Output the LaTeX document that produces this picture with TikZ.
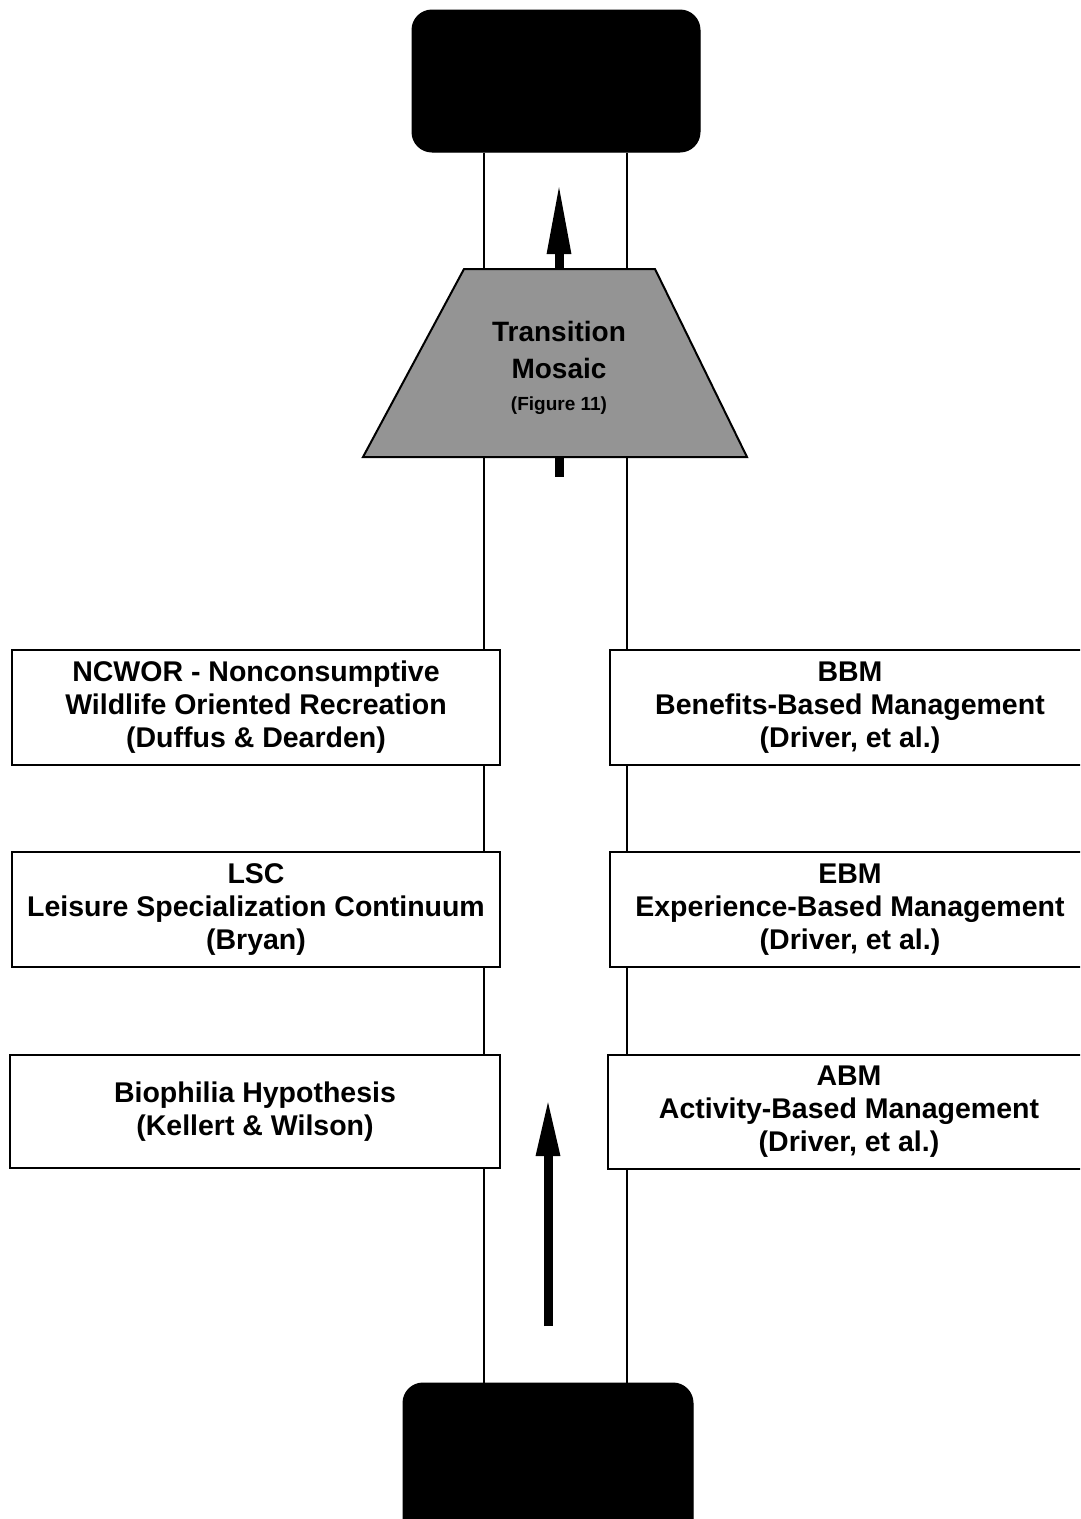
\documentclass[tikz,border=0pt]{standalone}
\usepackage{fontspec}
\setmainfont{Liberation Sans}
\usetikzlibrary{arrows.meta}
\begin{document}
\begin{tikzpicture}[x=1pt,y=-1pt,
  darkbox/.style={draw=black, fill=black, rounded corners=20pt, line width=1pt, inner sep=0pt},
  theorybox/.style={draw=black, fill=white, line width=1.8pt, inner sep=0pt, align=center,
     font=\fontsize{28.5}{33}\selectfont\bfseries},
  rail/.style={line width=1.8pt},
  mosaicfill/.style={draw=black, line width=2pt, fill=black!42, line join=miter},
  traptitle/.style={anchor=base, inner sep=0pt, font=\fontsize{28}{30}\selectfont\bfseries},
  trapnote/.style={anchor=base, inner sep=0pt, font=\fontsize{19}{21}\selectfont\bfseries},
  upA/.style={line width=9pt, -{Triangle[length=72pt,width=22pt]}},
  upB/.style={line width=9pt, -{Triangle[length=58pt,width=22pt]}},
]
\useasboundingbox (0,0) rectangle (1080,1519);
\clip (0,0) rectangle (1080,1519);
\fill[white] (0,0) rectangle (1080,1519);

% rail x positions and arrow coordinates
\coordinate (lx) at (484,0);
\coordinate (rx) at (627,0);
\coordinate (ax) at (559,0);
\coordinate (tipA) at (559,182);
\coordinate (stubEnd) at (559,477);
\coordinate (tailB) at (548,1326);
\coordinate (tipB) at (548,1098);

% trapezoid corners
\coordinate (trapTL) at (464,269);
\coordinate (trapTR) at (655,269);
\coordinate (trapBR) at (747,457);
\coordinate (trapBL) at (363,457);

% black end boxes
\node[darkbox, minimum width=288pt, minimum height=142pt] (top) at (556,81) {};
\node[darkbox, minimum width=290pt, minimum height=160pt] (bot) at (548,1463) {};

% transition mosaic
\draw[mosaicfill] (trapTL) -- (trapTR) -- (trapBR) -- (trapBL) -- cycle;
\node[traptitle] (tm1) at (559,341) {Transition};
\node[traptitle] (tm2) at (559,378) {Mosaic};
\node[trapnote] (tm3) at (559,410) {(Figure 11)};

% theory boxes
\node[theorybox, minimum width=488pt, minimum height=115pt] (ncwor) at (256,707.5)
  {NCWOR - Nonconsumptive\\Wildlife Oriented Recreation\\(Duffus \& Dearden)};
\node[theorybox, minimum width=488pt, minimum height=115pt] (lsc) at (256,909.5)
  {LSC\\Leisure Specialization Continuum\\(Bryan)};
\node[theorybox, minimum width=490pt, minimum height=113pt] (bio) at (255,1111.5)
  {Biophilia Hypothesis\\(Kellert \& Wilson)};

\node[theorybox, minimum width=480pt, minimum height=115pt] (bbm) at (850,707.5)
  {BBM\\Benefits-Based Management\\(Driver, et al.)};
\node[theorybox, minimum width=480pt, minimum height=115pt] (ebm) at (850,909.5)
  {EBM\\Experience-Based Management\\(Driver, et al.)};
\node[theorybox, minimum width=482pt, minimum height=114pt] (abm) at (849,1112)
  {ABM\\Activity-Based Management\\(Driver, et al.)};

% left rail
\draw[rail] (top.south -| lx) -- (trapTL -| lx);
\draw[rail] (trapBL -| lx) -- (ncwor.north -| lx);
\draw[rail] (ncwor.south -| lx) -- (lsc.north -| lx);
\draw[rail] (lsc.south -| lx) -- (bio.north -| lx);
\draw[rail] (bio.south -| lx) -- (bot.north -| lx);
% right rail
\draw[rail] (top.south -| rx) -- (trapTR -| rx);
\draw[rail] (trapBR -| rx) -- (bbm.north -| rx);
\draw[rail] (bbm.south -| rx) -- (ebm.north -| rx);
\draw[rail] (ebm.south -| rx) -- (abm.north -| rx);
\draw[rail] (abm.south -| rx) -- (bot.north -| rx);

% arrows
\draw[upA] (trapTL -| ax) -- (tipA);
\draw[line width=9pt] (trapBL -| ax) -- (stubEnd);
\draw[upB] (tailB) -- (tipB);
\end{tikzpicture}
\end{document}
